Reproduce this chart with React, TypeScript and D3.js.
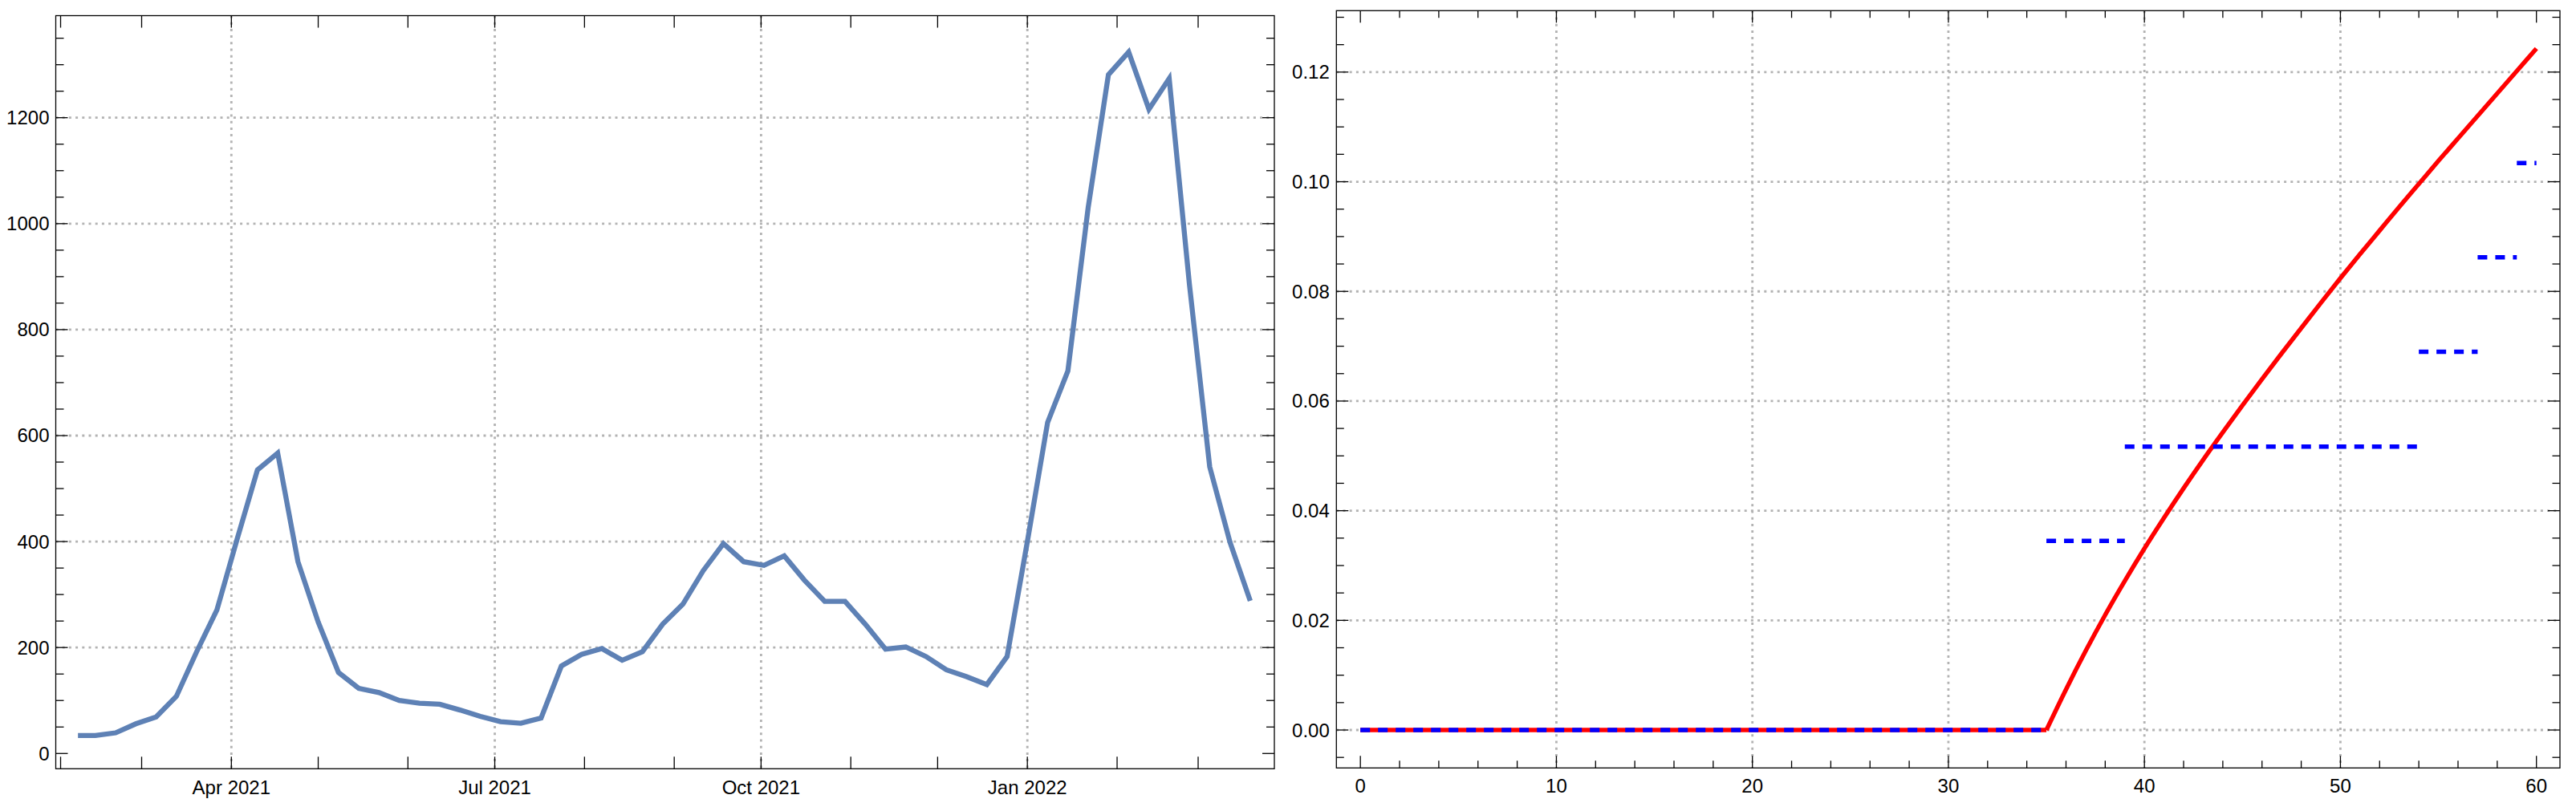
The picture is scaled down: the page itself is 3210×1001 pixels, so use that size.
import React from "react";
import * as d3 from "d3";

// ---- left chart: weekly counts ----
const weekDates = [
  "2021-02-07", "2021-02-13", "2021-02-20", "2021-02-27", "2021-03-06", "2021-03-13",
  "2021-03-20", "2021-03-27", "2021-04-03", "2021-04-10", "2021-04-17", "2021-04-24",
  "2021-05-01", "2021-05-08", "2021-05-15", "2021-05-22", "2021-05-29", "2021-06-05",
  "2021-06-12", "2021-06-19", "2021-06-26", "2021-07-03", "2021-07-10", "2021-07-17",
  "2021-07-24", "2021-07-31", "2021-08-07", "2021-08-14", "2021-08-21", "2021-08-28",
  "2021-09-04", "2021-09-11", "2021-09-18", "2021-09-25", "2021-10-02", "2021-10-09",
  "2021-10-16", "2021-10-23", "2021-10-30", "2021-11-06", "2021-11-13", "2021-11-20",
  "2021-11-27", "2021-12-04", "2021-12-11", "2021-12-18", "2021-12-25", "2022-01-01",
  "2022-01-08", "2022-01-15", "2022-01-22", "2022-01-29", "2022-02-05", "2022-02-12",
  "2022-02-19", "2022-02-26", "2022-03-05", "2022-03-12", "2022-03-19",
];
const weekCounts = [
  34, 34, 39, 56, 69, 108, 192, 271, 405, 535,
  567, 362, 248, 153, 123, 115, 100, 95, 93, 82,
  70, 60, 57, 67, 165, 187, 198, 176, 192, 244,
  282, 345, 396, 362, 355, 373, 327, 287, 287, 244,
  197, 201, 183, 158, 145, 130, 183, 400, 625, 722,
  1030, 1281, 1324, 1216, 1274, 885, 541, 399, 288,
];
const leftXLabelDates = ["2021-04-01", "2021-07-01", "2021-10-01", "2022-01-01"];
const leftXLabels = ["Apr 2021", "Jul 2021", "Oct 2021", "Jan 2022"];
const leftYTicks = [0, 200, 400, 600, 800, 1000, 1200];
const leftYGrid = [200, 400, 600, 800, 1000, 1200];

// ---- right chart: curve and step function ----
const flatX = [0, 35];
const flatY = [0, 0];
const curveX = [35, 36, 37, 38, 39, 40, 41, 42, 43, 44, 45, 46, 47, 48, 49, 50, 51, 52, 53, 54, 55, 56, 57, 58, 59, 60];
const curveY = [
  0, 0.0074, 0.0144, 0.021, 0.0272, 0.0331, 0.0387, 0.0441, 0.0493, 0.0543, 0.0592,
  0.064, 0.0687, 0.0733, 0.0779, 0.0824, 0.0868, 0.0911, 0.0954, 0.0996, 0.1038,
  0.1079, 0.112, 0.1161, 0.1202, 0.1243,
];
const stepStart = [0, 35, 39, 54, 57, 59];
const stepEnd = [35, 39, 54, 57, 59, 60];
const stepValue = [0, 0.0345, 0.0517, 0.069, 0.0862, 0.1034];
const rightXTicks = [0, 10, 20, 30, 40, 50, 60];
const rightXGrid = [10, 20, 30, 40, 50];
const rightYTicks = [0, 0.02, 0.04, 0.06, 0.08, 0.1, 0.12];

const FONT = "'Liberation Sans', Arial, sans-serif";
const GRID = "#b3b3b3";

export default function App() {
  const parse = d3.timeParse("%Y-%m-%d");

  // left panel frame
  const L = { x0: 69.5, x1: 1588, y0: 19.5, y1: 958.3 };
  const xL = d3
    .scaleTime()
    .domain([new Date(2021, 0, 30, 8), new Date(2022, 2, 27, 8)])
    .range([L.x0, L.x1]);
  const yL = d3.scaleLinear().domain([-28.8, 1392.6]).range([L.y1, L.y0]);

  // right panel frame
  const R = { x0: 1665.3, x1: 3190, y0: 13.3, y1: 957.3 };
  const xR = d3.scaleLinear().domain([-1.224, 61.2]).range([R.x0, R.x1]);
  const yR = d3.scaleLinear().domain([-0.00692, 0.1312]).range([R.y1, R.y0]);

  const weekly = weekDates.map((d, i) => ({ date: parse(d) as Date, value: weekCounts[i] }));
  const lineL = d3
    .line<{ date: Date; value: number }>()
    .x((d) => xL(d.date))
    .y((d) => yL(d.value));

  const flat = flatX.map((x, i) => [x, flatY[i]] as [number, number]);
  const curve = curveX.map((x, i) => [x, curveY[i]] as [number, number]);
  const lineR = d3
    .line<[number, number]>()
    .x((d) => xR(d[0]))
    .y((d) => yR(d[1]));
  const smoothR = lineR.curve(d3.curveMonotoneX);
  const straightR = d3
    .line<[number, number]>()
    .x((d) => xR(d[0]))
    .y((d) => yR(d[1]));

  const months = d3.timeMonth.range(new Date(2021, 1, 1), new Date(2022, 2, 2));
  const leftYMinor = d3.range(0, 1351, 50).filter((v) => v % 200 !== 0);
  const rightXMinor = d3.range(0, 61, 2).filter((v) => v % 10 !== 0);
  const rightYMinor = d3
    .range(-0.005, 0.1301, 0.005)
    .filter((v) => Math.abs(v / 0.02 - Math.round(v / 0.02)) > 0.01);
  const fmt = d3.format(".2f");

  return (
    <svg
      width={3210}
      height={1001}
      style={{ position: "absolute", left: 0, top: 0, background: "#fff" }}
      fontFamily={FONT}
    >
      <rect width={3210} height={1001} fill="#fff" />

      {/* ===== left panel ===== */}
      <g stroke={GRID} strokeWidth={2.8} strokeDasharray="3 5.2">
        {leftYGrid.map((v) => (
          <line key={"lg" + v} x1={L.x0} x2={L.x1} y1={yL(v)} y2={yL(v)} />
        ))}
        {leftXLabelDates.map((d) => (
          <line key={"lgx" + d} x1={xL(parse(d) as Date)} x2={xL(parse(d) as Date)} y1={L.y0} y2={L.y1} />
        ))}
      </g>
      <path
        d={lineL(weekly) || ""}
        fill="none"
        stroke="#5e81b5"
        strokeWidth={6.3}
        strokeLinejoin="miter"
        strokeMiterlimit={6}
      />
      <g stroke="#000" strokeWidth={1.3}>
        <rect x={L.x0} y={L.y0} width={L.x1 - L.x0} height={L.y1 - L.y0} fill="none" />
        {months.map((m) => (
          <g key={"mt" + m.getTime()}>
            <line x1={xL(m)} x2={xL(m)} y1={L.y1} y2={L.y1 - 15} />
            <line x1={xL(m)} x2={xL(m)} y1={L.y0} y2={L.y0 + 15} />
          </g>
        ))}
        {leftYTicks.map((v) => (
          <g key={"ly" + v}>
            <line x1={L.x0} x2={L.x0 + 15} y1={yL(v)} y2={yL(v)} />
            <line x1={L.x1} x2={L.x1 - 15} y1={yL(v)} y2={yL(v)} />
          </g>
        ))}
        {leftYMinor.map((v) => (
          <g key={"lym" + v}>
            <line x1={L.x0} x2={L.x0 + 10} y1={yL(v)} y2={yL(v)} />
            <line x1={L.x1} x2={L.x1 - 10} y1={yL(v)} y2={yL(v)} />
          </g>
        ))}
      </g>
      <g fontSize={24} fill="#000">
        {leftYTicks.map((v) => (
          <text key={"lyt" + v} x={L.x0 - 8} y={yL(v) + 8.5} textAnchor="end">
            {v}
          </text>
        ))}
        {leftXLabels.map((t, i) => (
          <text key={"lxt" + t} x={xL(parse(leftXLabelDates[i]) as Date)} y={990} textAnchor="middle">
            {t}
          </text>
        ))}
      </g>

      {/* ===== right panel ===== */}
      <g stroke={GRID} strokeWidth={2.8} strokeDasharray="3 5.2">
        {rightYTicks.map((v) => (
          <line key={"rg" + v} x1={R.x0} x2={R.x1} y1={yR(v)} y2={yR(v)} />
        ))}
        {rightXGrid.map((v) => (
          <line key={"rgx" + v} x1={xR(v)} x2={xR(v)} y1={R.y0} y2={R.y1} />
        ))}
      </g>
      <g fill="none" stroke="#ff0000" strokeWidth={5.5}>
        <path d={straightR(flat) || ""} />
        <path d={smoothR(curve) || ""} />
      </g>
      <g stroke="#0000ff" strokeWidth={5.5} strokeDasharray="12 10">
        {stepStart.map((s, i) => (
          <line key={"st" + i} x1={xR(s)} x2={xR(stepEnd[i])} y1={yR(stepValue[i])} y2={yR(stepValue[i])} />
        ))}
      </g>
      <g stroke="#000" strokeWidth={1.3}>
        <rect x={R.x0} y={R.y0} width={R.x1 - R.x0} height={R.y1 - R.y0} fill="none" />
        {rightXTicks.map((v) => (
          <g key={"rx" + v}>
            <line x1={xR(v)} x2={xR(v)} y1={R.y1} y2={R.y1 - 15} />
            <line x1={xR(v)} x2={xR(v)} y1={R.y0} y2={R.y0 + 15} />
          </g>
        ))}
        {rightXMinor.map((v) => (
          <g key={"rxm" + v}>
            <line x1={xR(v)} x2={xR(v)} y1={R.y1} y2={R.y1 - 9} />
            <line x1={xR(v)} x2={xR(v)} y1={R.y0} y2={R.y0 + 9} />
          </g>
        ))}
        {rightYTicks.map((v) => (
          <g key={"ry" + v}>
            <line x1={R.x0} x2={R.x0 + 15} y1={yR(v)} y2={yR(v)} />
            <line x1={R.x1} x2={R.x1 - 15} y1={yR(v)} y2={yR(v)} />
          </g>
        ))}
        {rightYMinor.map((v) => (
          <g key={"rym" + v}>
            <line x1={R.x0} x2={R.x0 + 9.5} y1={yR(v)} y2={yR(v)} />
            <line x1={R.x1} x2={R.x1 - 9.5} y1={yR(v)} y2={yR(v)} />
          </g>
        ))}
      </g>
      <g fontSize={24} fill="#000">
        {rightYTicks.map((v) => (
          <text key={"ryt" + v} x={R.x0 - 8.5} y={yR(v) + 8.5} textAnchor="end">
            {fmt(v)}
          </text>
        ))}
        {rightXTicks.map((v) => (
          <text key={"rxt" + v} x={xR(v)} y={988} textAnchor="middle">
            {v}
          </text>
        ))}
      </g>
    </svg>
  );
}
